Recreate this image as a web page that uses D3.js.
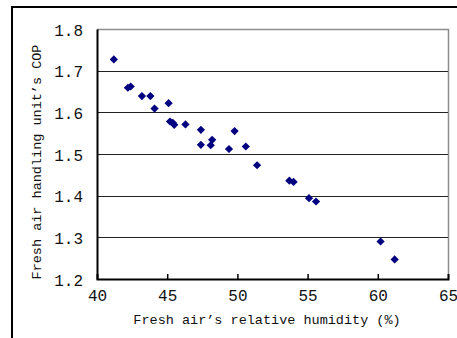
<!DOCTYPE html>
<html>
<head>
<meta charset="utf-8">
<script src="https://cdn.jsdelivr.net/npm/d3@7"></script>
<style>
  body { margin: 0; background: #fff; }
  text { font-family: "Liberation Mono", "DejaVu Sans Mono", monospace; fill: #111; }
</style>
</head>
<body>
<div id="canvas"></div>
<script>
// values
var humidity = [41.2, 42.2, 42.4, 43.2, 43.8, 44.1, 45.1, 45.2, 45.4, 45.5, 46.3, 47.4, 47.4, 48.1, 48.2, 49.4, 49.8, 50.6, 51.4, 53.7, 54.0, 55.1, 55.6, 60.2, 61.2];
var cop =      [1.727, 1.659, 1.662, 1.639, 1.639, 1.609, 1.622, 1.578, 1.575, 1.570, 1.571, 1.558, 1.522, 1.521, 1.534, 1.512, 1.555, 1.518, 1.473, 1.436, 1.433, 1.394, 1.386, 1.290, 1.247];
var xTicks = [40, 45, 50, 55, 60, 65];
var yTicks = [1.2, 1.3, 1.4, 1.5, 1.6, 1.7, 1.8];

var W = 457, H = 338;
var m = {t: 29, r: 9, b: 59, l: 97},
    w = W - m.l - m.r,
    h = H - m.t - m.b;

var svg = d3.select('#canvas').append('svg')
    .attr('width', W)
    .attr('height', H);

// outer frame (top and left edges visible)
svg.append('path')
    .attr('d', 'M12,338V7H457')
    .attr('fill', 'none')
    .attr('stroke', '#000')
    .attr('stroke-width', 2);

var plot = svg.append('g')
    .attr('transform', 'translate(' + m.l + ',' + m.t + ')');

var scaleX = d3.scaleLinear().domain([40, 65]).range([0, w]);
var scaleY = d3.scaleLinear().domain([1.2, 1.8]).range([h, 0]);

// plot border, gray top/right
plot.append('path')
    .attr('d', 'M0,0.5H' + (w + 0.5) + 'V' + h)
    .attr('fill', 'none')
    .attr('stroke', '#8c8c8c')
    .attr('stroke-width', 1.5);

// gridlines
plot.selectAll('.grid').data(yTicks.slice(1, -1)).enter()
    .append('line')
    .attr('x1', 0).attr('x2', w)
    .attr('y1', function(d) { return Math.round(scaleY(d)) + 0.5; })
    .attr('y2', function(d) { return Math.round(scaleY(d)) + 0.5; })
    .attr('stroke', '#222')
    .attr('stroke-width', 1);

// axes
var xAxis = d3.axisBottom(scaleX).tickValues(xTicks).tickSize(-5).tickPadding(11);
var yAxis = d3.axisLeft(scaleY).tickValues(yTicks).tickSize(0).tickPadding(14)
    .tickFormat(d3.format('.1f'));

var gx = plot.append('g').attr('transform', 'translate(0,' + h + ')').call(xAxis);
var gy = plot.append('g').call(yAxis);

[gx, gy].forEach(function(g) {
  g.select('.domain').attr('stroke', '#000').attr('stroke-width', 2);
  g.selectAll('.tick line').attr('stroke', '#000').attr('stroke-width', 1.5);
  g.selectAll('.tick text')
    .style('font-family', '"Liberation Mono", monospace')
    .style('font-size', '16px')
    .attr('fill', '#111');
});
gx.selectAll('.tick').filter(function(d) { return d === 40 || d === 65; }).select('line').remove();
gy.selectAll('.tick text').attr('dy', '0.38em');

// axis titles
svg.append('text')
    .attr('x', 267).attr('y', 324)
    .attr('text-anchor', 'middle')
    .style('font-size', '13.5px')
    .attr('fill', '#333')
    .text('Fresh air\u2019s relative humidity (%)');

svg.append('text')
    .attr('transform', 'translate(41,162) rotate(-90)')
    .attr('text-anchor', 'middle')
    .style('font-size', '13.5px')
    .attr('fill', '#333')
    .text('Fresh air handling unit\u2019s COP');

// points
var diamond = d3.symbol().type(d3.symbolSquare).size(34);
plot.selectAll('.pt').data(d3.range(humidity.length)).enter()
    .append('path')
    .attr('d', diamond)
    .attr('transform', function(i) {
      return 'translate(' + scaleX(humidity[i]) + ',' + scaleY(cop[i]) + ') rotate(45)';
    })
    .attr('fill', '#000080');
</script>
</body>
</html>
